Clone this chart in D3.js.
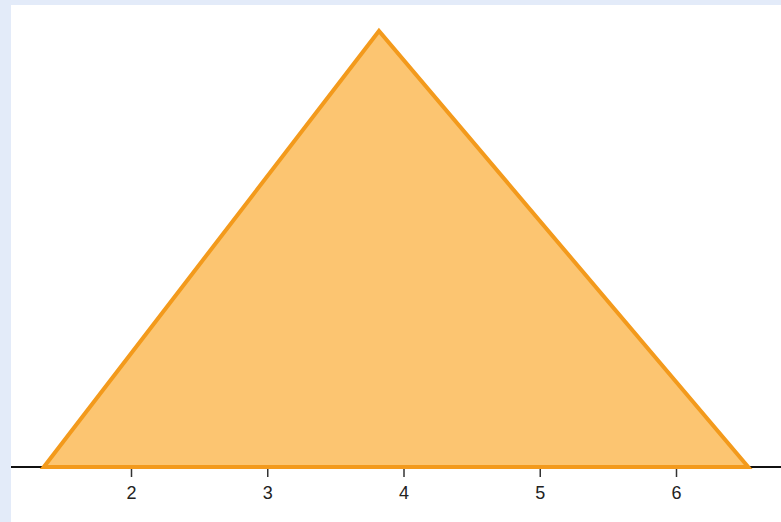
<!DOCTYPE html>
<html>
<head>
<meta charset="utf-8">
<script src="https://cdn.jsdelivr.net/npm/d3@7"></script>
<style>
  html, body { margin: 0; padding: 0; background: #e3ebf9; }
  svg { display: block; }
</style>
</head>
<body>
<div class="chart"></div>
<script>
// window is 781 x 522
WIDTH = 781
HEIGHT = 522
PANEL_LEFT = 11
PANEL_TOP = 5
AXIS_Y = 467
PEAK_Y = 31

// data
var xTicks = [2, 3, 4, 5, 6];
var triX = [1.36, 3.82, 6.53];
var triY = [0, 1, 0];

var x = d3.scaleLinear().domain([2, 6]).range([131, 676]);
var y = d3.scaleLinear().domain([0, 1]).range([AXIS_Y, PEAK_Y]);

var svg = d3.select(".chart").append("svg")
		.attr("width", WIDTH)
		.attr("height", HEIGHT);

// white plot panel
svg.append("rect")
		.attr("x", PANEL_LEFT)
		.attr("y", PANEL_TOP)
		.attr("width", WIDTH - PANEL_LEFT)
		.attr("height", HEIGHT - PANEL_TOP)
		.style("fill", "#ffffff");

// axis
var xAxis = d3.axisBottom(x)
		.tickValues(xTicks)
		.tickFormat(d3.format("d"))
		.tickSize(10)
		.tickPadding(9);

var axisG = svg.append("g")
		.attr("transform", "translate(0," + AXIS_Y + ")")
		.call(xAxis);

axisG.select(".domain").remove();
axisG.selectAll("line")
		.style("stroke", "#333")
		.style("stroke-width", "1.5px");
axisG.selectAll("text")
		.style("font-family", "Liberation Sans, Arial, sans-serif")
		.style("font-size", "18px")
		.style("fill", "#222");

svg.append("line")
		.attr("x1", PANEL_LEFT)
		.attr("x2", WIDTH)
		.attr("y1", AXIS_Y)
		.attr("y2", AXIS_Y)
		.style("stroke", "#111")
		.style("stroke-width", "2px");

// triangle
var pts = triX.map(function(d, i) { return [x(d), y(triY[i])]; });
svg.append("path")
		.attr("d", d3.line()(pts) + "Z")
		.style("fill", "#fcc571")
		.style("stroke", "#f39a1c")
		.style("stroke-width", "4px")
		.style("stroke-linejoin", "miter");
</script>
</body>
</html>
